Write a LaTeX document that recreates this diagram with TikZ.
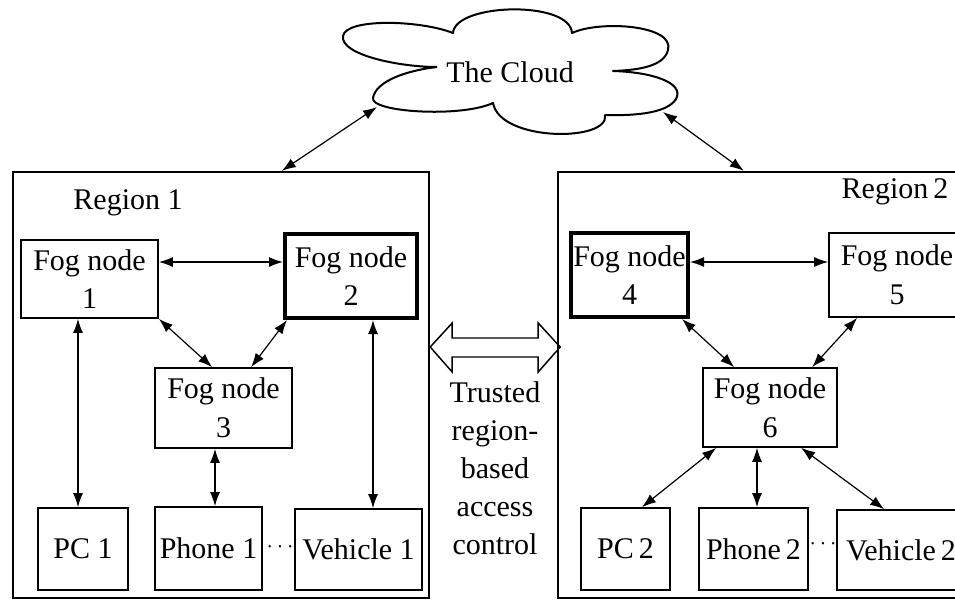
\documentclass[tikz,border=0pt]{standalone}
\usepackage{fontspec}
\setmainfont{Liberation Serif}
\usetikzlibrary{arrows.meta,calc}

\begin{document}
\begin{tikzpicture}[x=0.75pt,y=-0.75pt,
  every node/.style={font=\fontsize{22.5}{29}\selectfont},
  box/.style 2 args={draw, line width=1.3pt, inner sep=0pt, align=center,
    minimum width=#1*0.75pt, minimum height=#2*0.75pt},
  region/.style 2 args={draw, line width=1.8pt, inner sep=0pt,
    minimum width=#1*0.75pt, minimum height=#2*0.75pt},
  heavy/.style={line width=3pt},
  link/.style={line width=0.9pt,
    arrows={Latex[length=10.5pt,width=7.5pt]-Latex[length=10.5pt,width=7.5pt]}},
  dotsep/.style={font=\fontsize{16}{16}\selectfont, inner sep=0pt}
]
\useasboundingbox (0,0) rectangle (955,601);
\clip (0,0) rectangle (955,601);

% the cloud
\draw[line width=1.5pt, line join=round]
  (437,67) .. controls (400,67) and (340,55) .. (343,36)
  .. controls (346,18) and (420,20) .. (453,33)
  .. controls (455,3) and (570,0) .. (572,33)
  .. controls (600,20) and (675,25) .. (668,50)
  .. controls (664,66) and (640,70) .. (613,71)
  .. controls (650,72) and (685,82) .. (676,99)
  .. controls (668,112) and (640,116) .. (605,115)
  .. controls (610,142) and (500,142) .. (493,103)
  .. controls (460,118) and (370,112) .. (373,98)
  .. controls (376,80) and (410,70) .. (437,67);
\node (cloud) at (510,72) {The Cloud};
\coordinate (cl1) at (377,107);
\coordinate (cl2) at (663,112);

% regions
\node[region={416}{426}] (r1) at (221,385) {};
\node[region={417}{426}] (r2) at (766.5,385) {};
\node (lab1) at (128,203) {Region 1};
\node (lab2) at (895,192) {Region\,2};

% region 1 nodes
\node[box={137}{78}] (f1) at (89.5,279) {Fog node\\1};
\node[box={132}{84}, heavy] (f2) at (351,276) {Fog node\\2};
\node[box={137}{80}] (f3) at (223.5,408) {Fog node\\3};
\node[box={90}{82}] (pc1) at (83,549) {PC 1};
\node[box={107}{83}] (ph1) at (208.5,548.5) {Phone 1};
\node[box={127}{81}] (v1) at (358.5,549.5) {Vehicle 1};
\node[dotsep] (d1) at (280,547) {$\cdots$};

% region 2 nodes
\node[box={117}{84}, heavy] (f4) at (629.5,275) {Fog node\\4};
\node[box={136}{84}] (f5) at (897,275) {Fog node\\5};
\node[box={134}{79}] (f6) at (770,407.5) {Fog node\\6};
\node[box={89}{82}] (pc2) at (625.5,549) {PC\,2};
\node[box={109}{82}] (ph2) at (753.5,549) {Phone\,2};
\node[box={128}{80}] (v2) at (901,550) {Vehicle\,2};
\node[dotsep] (d2) at (823,544) {$\cdots$};

% links to the cloud
\draw[link] ($(r1.north west)+(270,0)$) -- (cl1);
\draw[link] (cl2) -- ($(r2.north west)+(187,0)$);

% links in region 1
\coordinate (a12) at ($(f1.east)+(0,-17)$);
\draw[link] (a12) -- (a12 -| f2.west);
\draw[link] (f1.south east) -- ($(f3.north west)+(58,0)$);
\draw[link] ($(f2.south west)+(4,0)$) -- ($(f3.north west)+(97,0)$);
\coordinate (a1p) at ($(f1.south)+(-11.5,0)$);
\draw[link] (a1p) -- (a1p |- pc1.north);
\coordinate (a3p) at ($(f3.south)+(-8.5,0)$);
\draw[link] (a3p) -- (a3p |- ph1.north);
\coordinate (a2v) at ($(f2.south)+(22,0)$);
\draw[link] (a2v) -- (a2v |- v1.north);

% links in region 2
\coordinate (a45) at ($(f4.east)+(0,-13)$);
\draw[link] (a45) -- (a45 -| f5.west);
\draw[link] ($(f4.south east)+(-8,0)$) -- ($(f6.north west)+(32,0)$);
\draw[link] ($(f5.south west)+(29,0)$) -- ($(f6.north west)+(110,0)$);
\draw[link] ($(f6.south west)+(14,0)$) -- ($(pc2.north)+(16.5,0)$);
\coordinate (a6p) at ($(f6.south)+(-13,0)$);
\draw[link] (a6p) -- (a6p |- ph2.north);
\draw[link] ($(f6.south west)+(99,0)$) -- ($(v2.north west)+(48,0)$);

% trusted access between the regions
\coordinate (ta) at ($(r1.east)+(0,-38)$);
\draw[line width=1.1pt, line join=miter]
  (ta) -- ++(22,-24) -- ++(0,15) -- ++(86,0) -- ++(0,-15) -- ++(22,24)
  -- ++(-22,25) -- ++(0,-15) -- ++(-86,0) -- ++(0,15) -- cycle;
\node[align=center, font=\fontsize{22.5}{28.5}\selectfont] (tr) at (495,468)
  {Trusted\\region-\\based\\access\\control};
\end{tikzpicture}
\end{document}
